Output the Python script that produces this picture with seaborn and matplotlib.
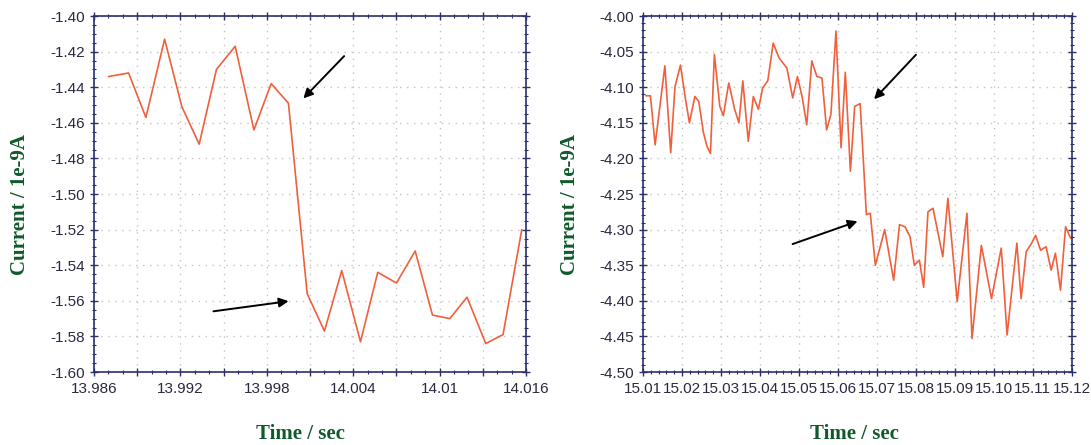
import matplotlib
matplotlib.use("Agg")
import matplotlib.pyplot as plt
from matplotlib.ticker import MultipleLocator, FuncFormatter
import seaborn as sns

# left panel: current around the step near 14.000 s
t_left = [13.9870, 13.9884, 13.9896, 13.9909, 13.9921, 13.9933, 13.9945, 13.9958,
          13.9971, 13.9983, 13.9995, 14.0008, 14.0020, 14.0032, 14.0045, 14.0057,
          14.0070, 14.0083, 14.0095, 14.0107, 14.0119, 14.0132, 14.0144, 14.0157]
i_left = [-1.434, -1.432, -1.457, -1.413, -1.451, -1.472, -1.430, -1.417,
          -1.464, -1.438, -1.449, -1.556, -1.577, -1.543, -1.583, -1.544,
          -1.550, -1.532, -1.568, -1.570, -1.558, -1.584, -1.579, -1.520]

# right panel: current around the step near 15.067 s
t_right = [15.0107, 15.0119, 15.0131, 15.0156, 15.0171, 15.0182, 15.0196, 15.0209,
           15.0219, 15.0233, 15.0243, 15.0255, 15.0264, 15.0273, 15.0283, 15.0297,
           15.0306, 15.0320, 15.0335, 15.0346, 15.0356, 15.0370, 15.0383, 15.0396,
           15.0407, 15.0420, 15.0434, 15.0449, 15.0469, 15.0484, 15.0496, 15.0508,
           15.0520, 15.0533, 15.0546, 15.0559, 15.0571, 15.0582, 15.0595, 15.0608,
           15.0619, 15.0632, 15.0643, 15.0657, 15.0673, 15.0683, 15.0696, 15.0720,
           15.0743, 15.0758, 15.0772, 15.0785, 15.0796, 15.0809, 15.0820, 15.0831,
           15.0844, 15.0869, 15.0882, 15.0906, 15.0931, 15.0944, 15.0968, 15.0994,
           15.1019, 15.1034, 15.1059, 15.1070, 15.1083, 15.1097, 15.1107, 15.1120,
           15.1134, 15.1147, 15.1158, 15.1171, 15.1184, 15.1197]
i_right = [-4.112, -4.112, -4.181, -4.070, -4.192, -4.099, -4.069, -4.117,
           -4.150, -4.113, -4.120, -4.164, -4.183, -4.193, -4.054, -4.127,
           -4.140, -4.094, -4.131, -4.150, -4.091, -4.176, -4.113, -4.131,
           -4.101, -4.091, -4.038, -4.059, -4.073, -4.115, -4.085, -4.113,
           -4.153, -4.063, -4.085, -4.087, -4.160, -4.138, -4.021, -4.185,
           -4.079, -4.218, -4.127, -4.123, -4.279, -4.277, -4.350, -4.300,
           -4.371, -4.293, -4.296, -4.310, -4.350, -4.343, -4.381, -4.275,
           -4.270, -4.338, -4.256, -4.401, -4.277, -4.453, -4.322, -4.397,
           -4.326, -4.448, -4.319, -4.397, -4.331, -4.319, -4.308, -4.329,
           -4.324, -4.357, -4.333, -4.385, -4.296, -4.312]

line_color = "#f0603c"
spine_color = "#2a2f6e"
label_color = "#0f5a2a"
tick_color = "#2a2a40"

sns.set_style("white")
plt.rcParams["font.family"] = ["Liberation Sans", "DejaVu Sans"]

fig = plt.figure(figsize=(10.91, 4.45), dpi=100)
ax1 = fig.add_axes([0.0862, 0.164, 0.396, 0.800])
ax2 = fig.add_axes([0.5894, 0.164, 0.393, 0.800])

sns.lineplot(x=t_left, y=i_left, ax=ax1, color=line_color, lw=1.2)
sns.lineplot(x=t_right, y=i_right, ax=ax2, color=line_color, lw=1.2)


def left_fmt(v, pos):
    # label only every second major tick (13.986, 13.992, ...)
    k = round((v - 13.986) / 0.003)
    return "%g" % round(v, 3) if k % 2 == 0 else ""


ax1.set_xlim(13.986, 14.016)
ax1.set_ylim(-1.60, -1.40)
ax1.xaxis.set_major_locator(MultipleLocator(0.003))
ax1.xaxis.set_minor_locator(MultipleLocator(0.001))
ax1.xaxis.set_major_formatter(FuncFormatter(left_fmt))
ax1.yaxis.set_major_locator(MultipleLocator(0.02))
ax1.yaxis.set_minor_locator(MultipleLocator(0.005))
ax1.yaxis.set_major_formatter(FuncFormatter(lambda v, p: "%.2f" % v))

ax2.set_xlim(15.01, 15.12)
ax2.set_ylim(-4.50, -4.00)
ax2.xaxis.set_major_locator(MultipleLocator(0.01))
ax2.xaxis.set_minor_locator(MultipleLocator(0.002))
ax2.xaxis.set_major_formatter(FuncFormatter(lambda v, p: "%.2f" % v))
ax2.yaxis.set_major_locator(MultipleLocator(0.05))
ax2.yaxis.set_minor_locator(MultipleLocator(0.01))
ax2.yaxis.set_major_formatter(FuncFormatter(lambda v, p: "%.2f" % v))

for ax, xlab_x, ylab_x in [(ax1, 0.477, -0.148), (ax2, 0.494, -0.147)]:
    ax.grid(True, which="major", color="#c4c4c4", linestyle=(0, (1, 4)), lw=1.0)
    for s in ax.spines.values():
        s.set_color(spine_color)
        s.set_linewidth(1.2)
        s.set_visible(True)
    ax.tick_params(which="both", top=True, right=True, color=spine_color,
                   labelcolor=tick_color, labelsize=11, direction="in")
    ax.tick_params(which="both", axis="x", bottom=True, direction="inout")
    ax.tick_params(which="both", axis="y", left=True, direction="inout")
    ax.tick_params(which="major", length=6, width=1.0)
    ax.tick_params(which="minor", length=3, width=0.8)
    ax.tick_params(axis="x", pad=4)
    ax.set_xlabel("Time / sec", family=["Liberation Serif"], fontweight="bold",
                  fontsize=15, color=label_color)
    ax.set_ylabel("Current / 1e-9A", family=["Liberation Serif"], fontweight="bold",
                  fontsize=15, color=label_color)
    ax.xaxis.set_label_coords(xlab_x, -0.145)
    ax.yaxis.set_label_coords(ylab_x, 0.47)

arrow = dict(arrowstyle="-|>", color="black", lw=1.4, mutation_scale=14)
ax1.annotate("", xy=(14.0004, -1.4474), xytext=(14.0035, -1.4214), arrowprops=arrow)
ax1.annotate("", xy=(13.9997, -1.5600), xytext=(13.9941, -1.5661), arrowprops=arrow)
ax2.annotate("", xy=(15.0688, -4.1197), xytext=(15.0805, -4.0516), arrowprops=arrow)
ax2.annotate("", xy=(15.0657, -4.2870), xytext=(15.0477, -4.3216), arrowprops=arrow)

fig.savefig("out.png", dpi=100)
